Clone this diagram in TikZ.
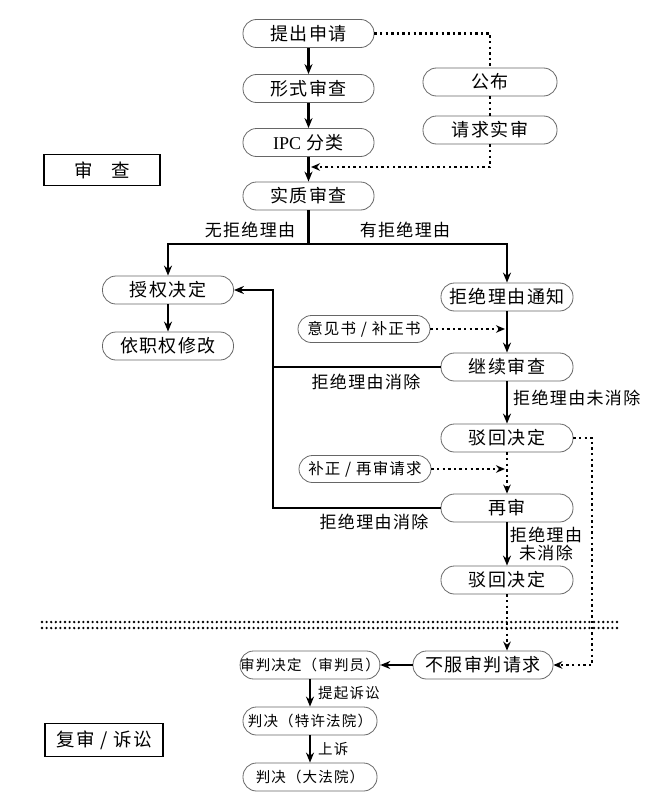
\documentclass[tikz,border=0pt]{standalone}
\usepackage{fontspec}
\setmainfont[LetterSpace=8]{Noto Sans CJK SC}
\newfontfamily\lserif{Liberation Serif}
\usetikzlibrary{arrows.meta}
\begin{document}
\begin{tikzpicture}[x=1pt,y=-1pt,
 proc/.style={draw=black!60, line width=0.8pt, rounded corners=13.5pt, minimum width=131pt, minimum height=28pt, inner sep=0pt, font=\fontsize{18}{18}\selectfont},
 side/.style={proc, minimum width=132pt, minimum height=27pt, font=\fontsize{15.5}{15.5}\selectfont},
 small/.style={proc, minimum width=134pt, font=\fontsize{14.5}{14.5}\selectfont},
 tag/.style={draw, line width=1.8pt, minimum width=116pt, minimum height=31pt, inner sep=0pt, font=\fontsize{18.5}{18.5}\selectfont},
 lab/.style={font=\fontsize{17}{17}\selectfont, inner sep=0pt},
 slab/.style={font=\fontsize{14.5}{14.5}\selectfont, inner sep=0pt},
 line/.style={line width=2.3pt},
 flow/.style={line width=2.3pt, -{Stealth[length=10pt,width=8pt]}},
 dot/.style={line width=2.4pt, dash pattern=on 2.4pt off 3.2pt},
 dotarr/.style={dot, -{Stealth[length=9pt,width=7.5pt]}},
 sep/.style={line width=2.6pt, line cap=round, dash pattern=on 0pt off 4.6pt}
]
\useasboundingbox (0,0) rectangle (665,800);

% top column
\node[proc] (n1) at (308.5,33.5) {提出申请};
\node[proc] (n2) at (308.5,88.5) {形式审查};
\node[proc] (n3) at (308.5,142.5) {{\lserif IPC} 分类};
\node[proc] (n4) at (308.5,196) {实质审查};
\node[proc, minimum width=134pt] (pub) at (490,82) {公布};
\node[proc, minimum width=134pt] (req) at (490,130) {请求实审};
\node[tag] (t1) at (102,170) {审\hspace{1em}查};

% left column
\node[proc] (grant) at (168,290) {授权决定};
\node[proc] (mod) at (168,346) {依职权修改};

% right column
\node[proc, minimum width=132pt] (notice) at (507,297) {拒绝理由通知};
\node[proc, minimum width=132pt] (cont) at (507,367) {继续审查};
\node[proc, minimum width=132pt] (rej1) at (507,438) {驳回决定};
\node[proc, minimum width=132pt] (re) at (507,508) {再审};
\node[proc, minimum width=132pt] (rej2) at (507,580) {驳回决定};
\node[side] (op) at (364,329) {意见书 / 补正书};
\node[side] (corr) at (365,469) {补正 / 再审请求};

% bottom
\node[proc, minimum width=140pt] (appeal) at (483,665) {不服审判请求};
\node[small] (trial) at (310,665) {审判决定（审判员）};
\node[small] (court) at (310,721) {判决（特许法院）};
\node[small] (supreme) at (310,777) {判决（大法院）};
\node[tag, minimum width=118pt, minimum height=33pt] (t2) at (104,740) {复审 / 诉讼};

% top connectors
\draw[flow] (n1.south) -- (n2.north);
\draw[flow] (n2.south) -- (n3.north);
\draw[flow] (n3.south) -- (n4.north);
\draw[dot] (n1.east) -| (pub.north);
\draw[dot] (pub.south) -- (req.north);
\coordinate (dt) at (311,167);
\draw[dotarr] (req.south) |- (dt);

% branch
\coordinate (j) at (308.5,244);
\draw[line] (n4.south) -- (j);
\draw[flow, line join=miter] (j) -| (grant.north);
\draw[flow, line join=miter] (j) -| (notice.north);
\node[lab] (l1) at (250,230) {无拒绝理由};
\node[lab] (l2) at (405,230) {有拒绝理由};

\draw[flow] (grant.south) -- (mod.north);

% right chain
\draw[flow] (notice.south) -- (cont.north);
\draw[flow] (cont.south) -- (rej1.north);
\draw[dotarr] (rej1.south) -- (re.north);
\draw[flow] (re.south) -- (rej2.north);
\coordinate (opT) at (505,329);
\draw[dotarr] (op.east) -- (opT);
\coordinate (corrT) at (505,469);
\draw[dotarr] (corr.east) -- (corrT);
\node[lab, anchor=west] (l3) at (513,398) {拒绝理由未消除};
\node[lab, align=center] (l4) at (546,544) {拒绝理由\\[1pt]未消除};

% return path
\coordinate (rt) at (273,290);
\draw[flow, line join=miter] (re.west) -| (rt) -- (grant.east);
\draw[line] (cont.west) -- (cont.west -| rt);
\node[lab] (l5) at (366,382) {拒绝理由消除};
\node[lab] (l6) at (374,522) {拒绝理由消除};

% right dotted to appeal
\coordinate (rr) at (592,438);
\draw[dotarr] (rej1.east) -- (rr) |- (appeal.east);
\draw[dotarr] (rej2.south) -- (rej2.south |- appeal.north);

% separator
\draw[sep] (42,622) -- (620,622);
\draw[sep] (42,628) -- (620,628);

% bottom connectors
\draw[flow] (appeal.west) -- (trial.east);
\draw[flow] (trial.south) -- (court.north);
\draw[flow] (court.south) -- (supreme.north);
\node[slab, anchor=west] (l7) at (318,693) {提起诉讼};
\node[slab, anchor=west] (l8) at (318,749) {上诉};
\end{tikzpicture}
\end{document}
